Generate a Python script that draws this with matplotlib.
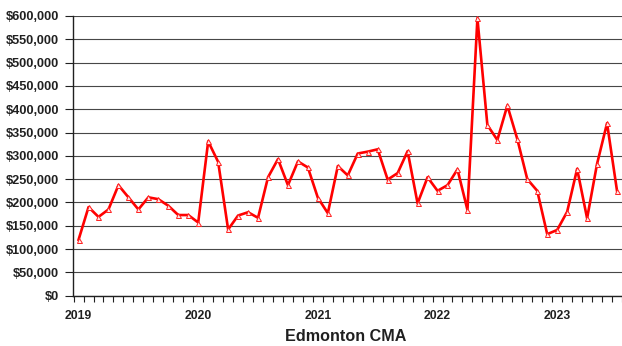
import matplotlib
matplotlib.use("Agg")
import matplotlib.pyplot as plt
from matplotlib.ticker import FuncFormatter, FixedLocator

# Monthly average price, Jan 2019 - Jul 2023
years = ["2019", "2020", "2021", "2022", "2023"]
prices = [
    120000, 190000, 169000, 185000, 237000, 211000, 185000, 211000, 207000, 193000, 173000, 173000,  # 2019
    157000, 331000, 287000, 142000, 172000, 179000, 167000, 254000, 293000, 237000, 288000, 275000,  # 2020
    210000, 177000, 278000, 258000, 305000, 309000, 314000, 249000, 263000, 310000, 198000, 254000,  # 2021
    225000, 237000, 271000, 184000, 595000, 366000, 334000, 408000, 336000, 250000, 225000, 132000,  # 2022
    141000, 180000, 272000, 166000, 283000, 370000, 225000,                                          # 2023
]
title = "Edmonton CMA"

plt.rcParams["font.family"] = ["Liberation Sans", "DejaVu Sans"]

fig = plt.figure(figsize=(6.22, 3.46), dpi=100)
ax = fig.add_axes([0.1178, 0.1454, 0.8822, 0.8084])

months = list(range(len(prices)))
ax.plot(months, prices, color="#ff0000", lw=1.9, marker="^", ms=3.6,
        mfc="#ffeaea", mec="#ff2020", mew=0.7, zorder=3)

ax.set_ylim(0, 600000)
ax.set_xlim(-0.53, 54.34)

ax.yaxis.set_major_locator(FixedLocator(range(0, 600001, 50000)))
ax.yaxis.set_major_formatter(FuncFormatter(lambda v, p: f"${v:,.0f}"))
ax.grid(axis="y", color="#474747", lw=0.8)
ax.set_axisbelow(True)

ax.set_xticks([12 * i for i in range(len(years))])
ax.set_xticklabels(years)
ax.set_xticks([k - 0.5 for k in range(len(prices) + 1)], minor=True)
ax.tick_params(axis="x", which="major", length=0, pad=10, labelsize=8.8)
ax.tick_params(axis="x", which="minor", length=4, width=0.8, color="#202020", direction="out")
ax.tick_params(axis="y", length=6, width=0.8, color="#202020", pad=4, labelsize=9.2)
for lab in ax.get_xticklabels() + ax.get_yticklabels():
    lab.set_fontweight("bold")
    lab.set_color("#202020")

for s in ("top", "right"):
    ax.spines[s].set_visible(False)
for s in ("left", "bottom"):
    ax.spines[s].set_color("#202020")
    ax.spines[s].set_linewidth(1.0)

fig.text(0.555, 0.028, title, ha="center", va="center", fontsize=11.6,
         fontweight="bold", color="#202020")

fig.savefig("out.png", dpi=100)
